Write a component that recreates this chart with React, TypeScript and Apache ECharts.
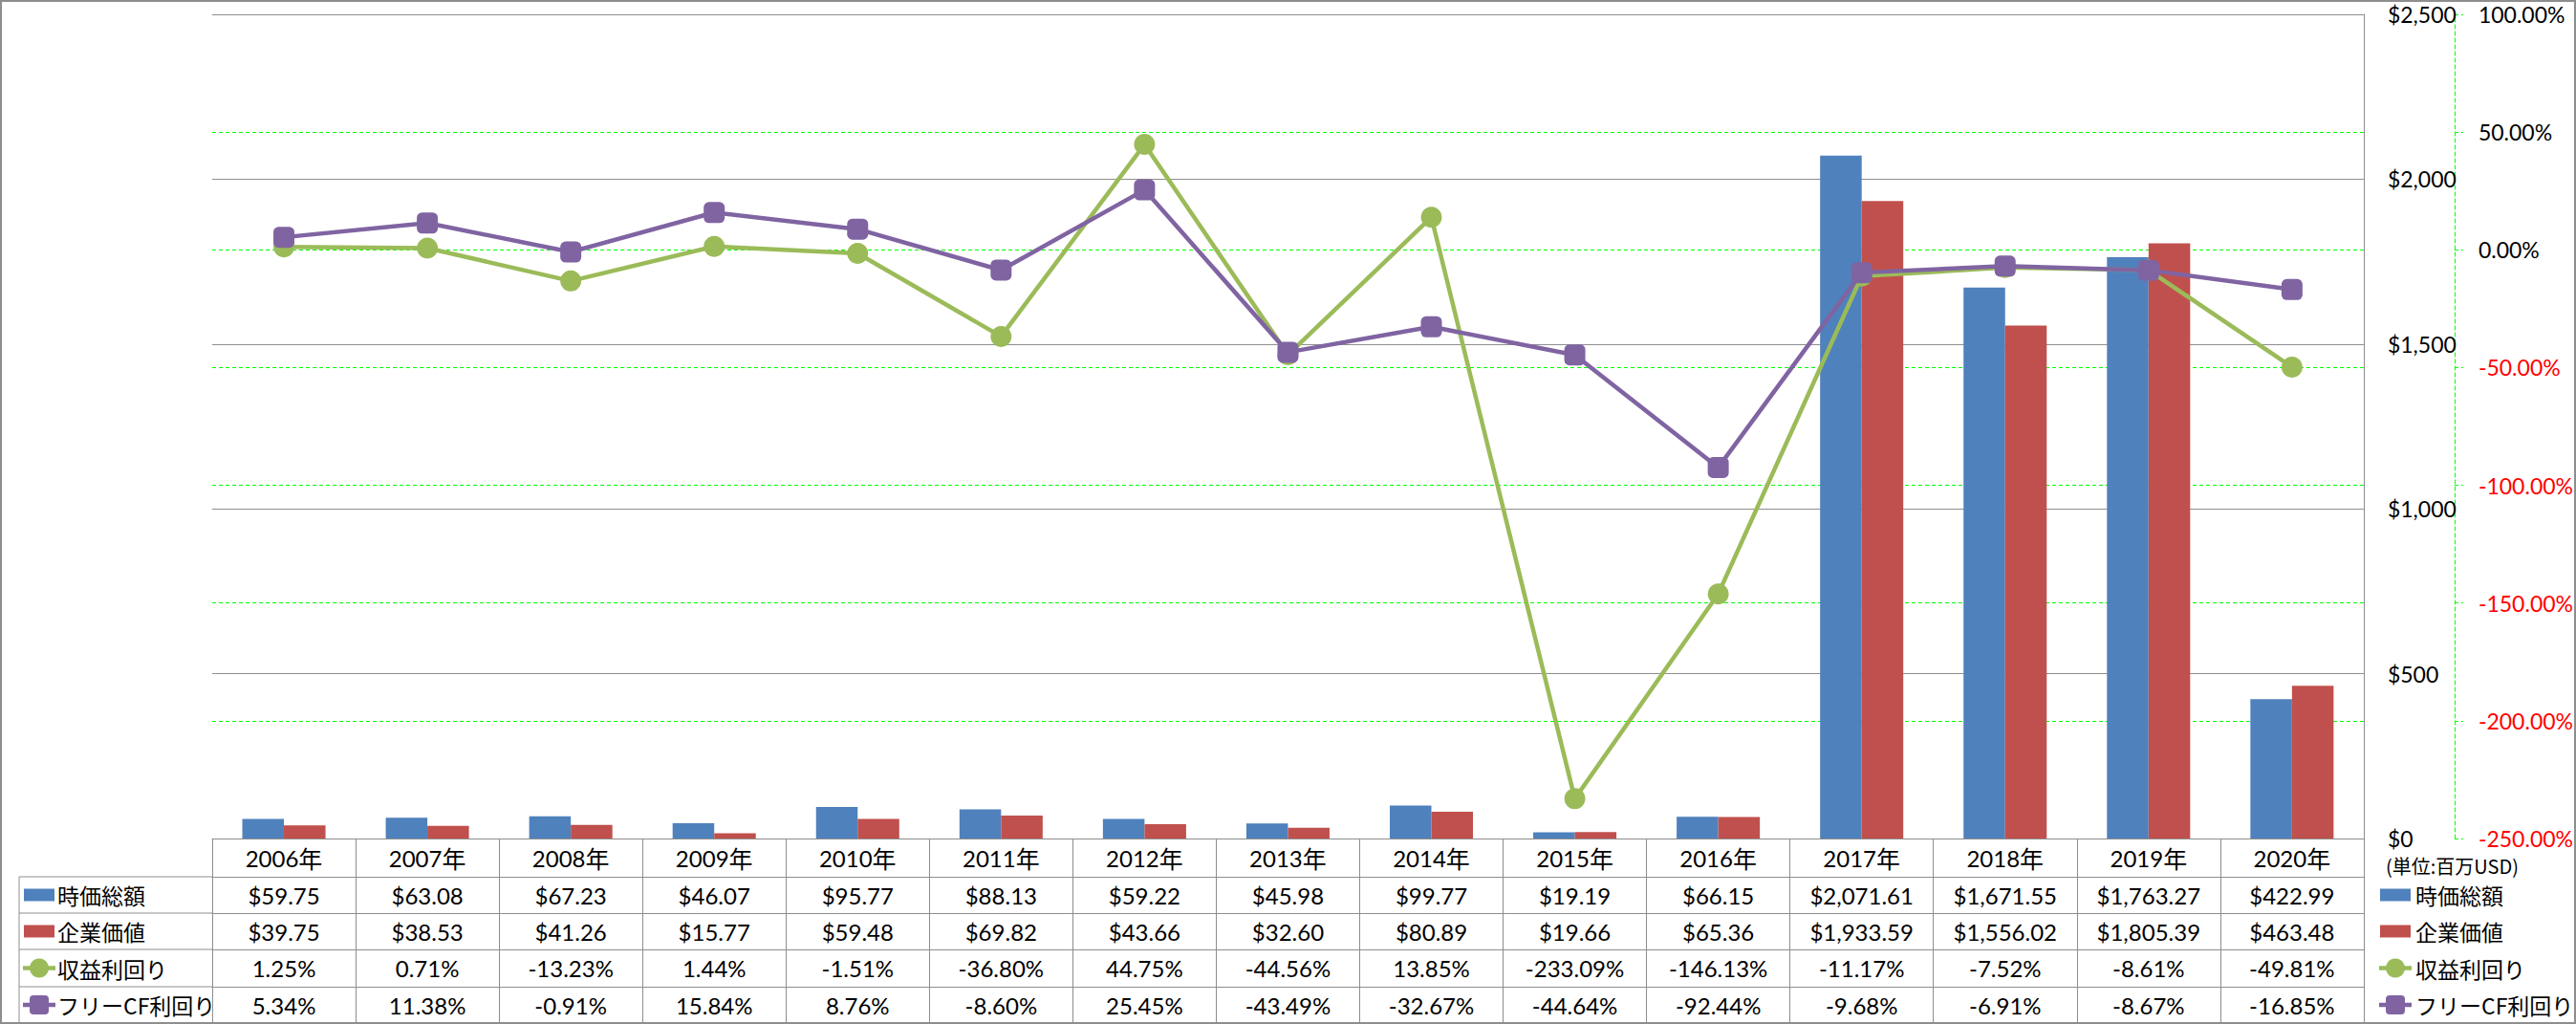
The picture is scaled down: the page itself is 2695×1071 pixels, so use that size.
import React, { useEffect, useRef } from "react";
import * as echarts from "echarts";

// ---------- data ----------
const categories = [
  "2006年", "2007年", "2008年", "2009年", "2010年", "2011年", "2012年", "2013年",
  "2014年", "2015年", "2016年", "2017年", "2018年", "2019年", "2020年",
];
const marketCap = [59.75, 63.08, 67.23, 46.07, 95.77, 88.13, 59.22, 45.98, 99.77, 19.19, 66.15, 2071.61, 1671.55, 1763.27, 422.99];
const enterpriseValue = [39.75, 38.53, 41.26, 15.77, 59.48, 69.82, 43.66, 32.6, 80.89, 19.66, 65.36, 1933.59, 1556.02, 1805.39, 463.48];
const earningsYield = [1.25, 0.71, -13.23, 1.44, -1.51, -36.8, 44.75, -44.56, 13.85, -233.09, -146.13, -11.17, -7.52, -8.61, -49.81];
const fcfYield = [5.34, 11.38, -0.91, 15.84, 8.76, -8.6, 25.45, -43.49, -32.67, -44.64, -92.44, -9.68, -6.91, -8.67, -16.85];

const seriesNames = ["時価総額", "企業価値", "収益利回り", "フリーCF利回り"];
const unitLabel = "(単位:百万USD)";
const usdAxis = { min: 0, max: 2500, interval: 500 };
const pctAxis = { min: -250, max: 100, interval: 50 };

// ---------- style / layout ----------
const W = 2695;
const H = 1071;
const BLUE = "#4F81BD";
const RED = "#C0504D";
const GREEN = "#9BBB59";
const PURPLE = "#8064A2";
const GRAY = "#8e8e8e";
const LIME = "#00ff00";
const LATIN = "Lato, 'Noto Sans CJK JP', sans-serif";
const CJK = "'Noto Sans CJK JP', Lato, sans-serif";
const FS = 23;
const TABLE_FS = 24;
const GRID = { left: 222, right: 218, top: 15, bottom: 194 };
const ROW_LINES = [877, 917, 955, 993, 1032, 1070];
const LEGEND_COL_LEFT = 20;

const fmtUsd = (v: number) =>
  "$" + v.toLocaleString("en-US", { minimumFractionDigits: 2, maximumFractionDigits: 2 });
const fmtPct = (v: number) => v.toFixed(2) + "%";

function buildTableAxes() {
  const rows: { data: string[]; isYear?: boolean }[] = [
    { data: categories, isYear: true },
    { data: marketCap.map(fmtUsd) },
    { data: enterpriseValue.map(fmtUsd) },
    { data: earningsYield.map(fmtPct) },
    { data: fcfYield.map(fmtPct) },
  ];
  const base = ROW_LINES[0];
  const axes: any[] = rows.map((r, i) => {
    const top = ROW_LINES[i];
    const bottom = ROW_LINES[i + 1];
    const h = bottom - top;
    return {
      type: "category",
      data: r.data,
      position: "bottom",
      offset: top - base,
      axisLine: { show: true, onZero: false, lineStyle: { color: GRAY, width: 1 } },
      axisTick: { show: true, interval: 0, length: h, lineStyle: { color: GRAY, width: 1 } },
      splitLine: { show: false },
      axisLabel: {
        interval: 0,
        hideOverlap: false,
        margin: h / 2,
        verticalAlign: "middle",
        color: "#000",
        fontSize: TABLE_FS,
        fontFamily: LATIN,
        ...(r.isYear
          ? {
              formatter: (v: string) => `{n|${v.slice(0, -1)}}{c|${v.slice(-1)}}`,
              rich: {
                n: { fontSize: TABLE_FS, fontFamily: LATIN, color: "#000" },
                c: { fontSize: 25, fontFamily: CJK, color: "#000" },
              },
            }
          : {}),
      },
    };
  });
  axes.push({
    type: "category",
    data: categories,
    position: "bottom",
    offset: ROW_LINES[5] - base,
    axisLine: { show: true, onZero: false, lineStyle: { color: GRAY, width: 1 } },
    axisTick: { show: false },
    axisLabel: { show: false },
    splitLine: { show: false },
  });
  return axes;
}

function legendGraphics(keyX: number, textX: number) {
  const colors = [BLUE, RED, GREEN, PURPLE];
  const els: any[] = [];
  seriesNames.forEach((name, i) => {
    const cy = (ROW_LINES[i + 1] + ROW_LINES[i + 2]) / 2;
    const kw = 32;
    if (i < 2) {
      els.push({ type: "rect", shape: { x: keyX, y: cy - 6.5, width: kw, height: 13 }, style: { fill: colors[i] } });
    } else {
      els.push({
        type: "line",
        shape: { x1: keyX - 1, y1: cy, x2: keyX + kw + 1, y2: cy },
        style: { stroke: colors[i], lineWidth: 4.5 },
      });
      if (i === 2) {
        els.push({ type: "circle", shape: { cx: keyX + kw / 2, cy, r: 10 }, style: { fill: colors[i] } });
      } else {
        els.push({
          type: "rect",
          shape: { x: keyX + kw / 2 - 10, y: cy - 10, width: 20, height: 20, r: 4 },
          style: { fill: colors[i] },
        });
      }
    }
    els.push({
      type: "text",
      x: textX,
      y: cy,
      style: { text: name, fontSize: 23, fontFamily: CJK, fill: "#000", verticalAlign: "middle", align: "left" },
    });
  });
  return els;
}

function buildOption() {
  const graphic: any[] = [
    {
      type: "rect",
      shape: { x: 1, y: 1, width: W - 2, height: H - 2 },
      style: { fill: "none", stroke: GRAY, lineWidth: 2 },
      silent: true,
    },
    {
      type: "line",
      shape: { x1: LEGEND_COL_LEFT, y1: ROW_LINES[1], x2: LEGEND_COL_LEFT, y2: ROW_LINES[5] },
      style: { stroke: GRAY, lineWidth: 1 },
    },
    ...ROW_LINES.slice(1).map((y) => ({
      type: "line",
      shape: { x1: LEGEND_COL_LEFT, y1: y, x2: GRID.left, y2: y },
      style: { stroke: GRAY, lineWidth: 1 },
    })),
    ...legendGraphics(LEGEND_COL_LEFT + 5, 60),
    ...legendGraphics(2490, 2527),
    {
      type: "text",
      x: 2496,
      y: (ROW_LINES[0] + ROW_LINES[1]) / 2 + 8,
      style: { text: unitLabel, fontSize: 20, fontFamily: CJK, fill: "#000", verticalAlign: "middle" },
    },
  ];

  return {
    animation: false,
    backgroundColor: "#fff",
    grid: { ...GRID, containLabel: false },
    xAxis: buildTableAxes(),
    yAxis: [
      {
        type: "value",
        position: "right",
        ...usdAxis,
        axisLine: { show: true, lineStyle: { color: GRAY, width: 1 } },
        axisTick: { show: false },
        axisLabel: {
          margin: 25,
          color: "#000",
          fontSize: FS,
          fontFamily: LATIN,
          formatter: (v: number) => "$" + v.toLocaleString("en-US"),
        },
        splitLine: { show: true, lineStyle: { color: GRAY, width: 1 } },
      },
      {
        type: "value",
        position: "right",
        offset: 95,
        ...pctAxis,
        axisLine: { show: true, lineStyle: { color: LIME, width: 1, type: [4, 3] } },
        axisTick: { show: true, length: 9, lineStyle: { color: LIME, width: 1, type: [4, 3] } },
        axisLabel: {
          margin: 25,
          fontSize: FS,
          fontFamily: LATIN,
          formatter: (v: number) => Number(v).toFixed(2) + "%",
          color: (v: any) => (Number(v) < 0 ? "#ff0000" : "#000000"),
        },
        splitLine: {
          show: true,
          showMinLine: false,
          showMaxLine: false,
          lineStyle: { color: LIME, width: 1.2, type: [4, 3] },
        },
      },
    ],
    series: [
      {
        name: seriesNames[0],
        type: "bar",
        data: marketCap,
        xAxisIndex: 0,
        yAxisIndex: 0,
        barGap: "0%",
        barCategoryGap: "42%",
        itemStyle: { color: BLUE },
      },
      {
        name: seriesNames[1],
        type: "bar",
        data: enterpriseValue,
        xAxisIndex: 0,
        yAxisIndex: 0,
        itemStyle: { color: RED },
      },
      {
        name: seriesNames[2],
        type: "line",
        data: earningsYield,
        xAxisIndex: 0,
        yAxisIndex: 1,
        symbol: "circle",
        symbolSize: 22,
        lineStyle: { color: GREEN, width: 4.5 },
        itemStyle: { color: GREEN },
        z: 3,
      },
      {
        name: seriesNames[3],
        type: "line",
        data: fcfYield,
        xAxisIndex: 0,
        yAxisIndex: 1,
        symbol: "roundRect",
        symbolSize: 22,
        lineStyle: { color: PURPLE, width: 4.5 },
        itemStyle: { color: PURPLE },
        z: 4,
      },
    ],
    graphic,
  };
}

export default function App() {
  const ref = useRef<HTMLDivElement>(null);
  useEffect(() => {
    if (!ref.current) return;
    const chart = echarts.init(ref.current, null, { renderer: "svg" });
    chart.setOption(buildOption() as any);
    return () => chart.dispose();
  }, []);
  return (
    <div
      ref={ref}
      style={{ position: "fixed", left: 0, top: 0, width: W, height: H, background: "#fff" }}
    />
  );
}
